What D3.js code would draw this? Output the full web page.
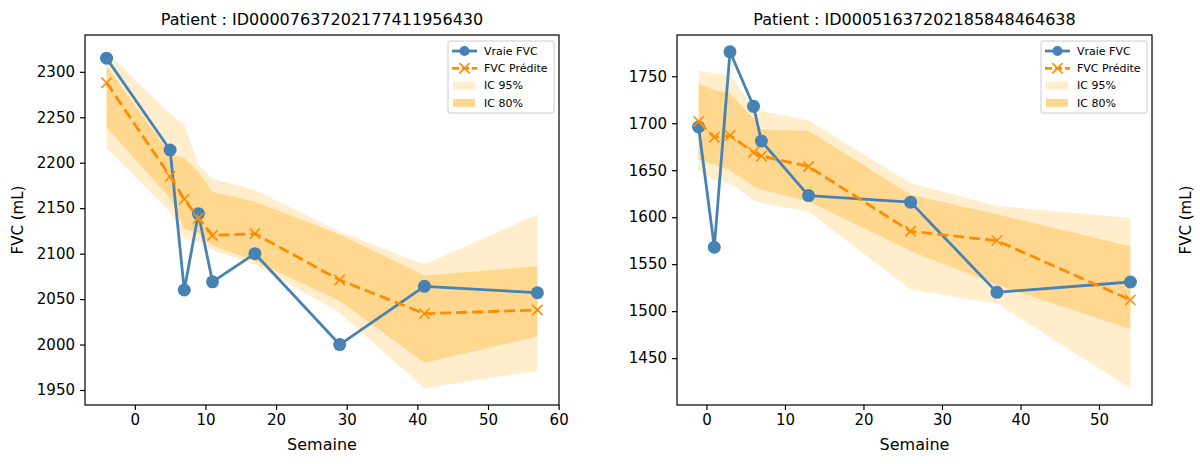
<!DOCTYPE html>
<html lang="fr">
<head>
<meta charset="utf-8">
<title>FVC</title>
<script src="https://d3js.org/d3.v7.min.js"></script>
<style>
  body { margin: 0; background: #fff; }
  svg { font-family: "DejaVu Sans", sans-serif; }
  .tick text { font-size: 15px; fill: #000; font-family: "DejaVu Sans", sans-serif; }
  .tick line { stroke: #000; stroke-width: 1.2; }
  .domain { display: none; }
</style>
</head>
<body>
<div id="chart"></div>
<script>
// patient 1
var patient1 = "ID00007637202177411956430";
var weeks1 = [-4, 5, 7, 9, 11, 17, 29, 41, 57];
var trueFvc1 = [2315, 2214, 2060, 2144, 2069, 2100, 2000, 2064, 2057];
var predFvc1 = [2288, 2185, 2160, 2139, 2120, 2122, 2071, 2034, 2038];
var lo95_1 = [2216, 2146, 2116, 2113, 2104, 2088, 2035, 1952, 1971];
var hi95_1 = [2322, 2254, 2242, 2198, 2182, 2170, 2124, 2088, 2143];
var lo80_1 = [2239, 2161, 2127, 2123, 2109, 2092, 2048, 1980, 2009];
var hi80_1 = [2306, 2210, 2205, 2190, 2168, 2157, 2121, 2076, 2086];
var xTicks1 = [0, 10, 20, 30, 40, 50, 60];
var yTicks1 = [1950, 2000, 2050, 2100, 2150, 2200, 2250, 2300];

// patient 2
var patient2 = "ID00051637202185848464638";
var weeks2 = [-1, 1, 3, 6, 7, 13, 26, 37, 54];
var trueFvc2 = [1696, 1568, 1776, 1718, 1681, 1623, 1616, 1520, 1531];
var predFvc2 = [1702, 1685, 1687, 1669, 1665, 1654, 1585, 1575, 1512];
var lo95_2 = [1649, 1640, 1636, 1618, 1615, 1606, 1523, 1508, 1418];
var hi95_2 = [1756, 1753, 1751, 1717, 1713, 1703, 1636, 1612, 1599];
var lo80_2 = [1661, 1656, 1650, 1633, 1629, 1617, 1564, 1528, 1481];
var hi80_2 = [1742, 1735, 1732, 1705, 1693, 1692, 1624, 1603, 1569];
var xTicks2 = [0, 10, 20, 30, 40, 50];
var yTicks2 = [1450, 1500, 1550, 1600, 1650, 1700, 1750];

var legendLabels = ["Vraie FVC", "FVC Prédite", "IC 95%", "IC 80%"];

var W = 1200, H = 464;
var svg = d3.select("#chart").append("svg")
    .attr("width", W)
    .attr("height", H);

// marges 5% comme matplotlib
function padded(lo, hi) {
    var p = (hi - lo) * 0.05;
    return [lo - p, hi + p];
}

function panel(left, right, top, bottom, p) {
    var x = d3.scaleLinear()
        .domain(padded(d3.min(p.weeks), d3.max(p.weeks)))
        .range([left, right]);
    var y = d3.scaleLinear()
        .domain(padded(d3.min(p.lo95.concat(p.trueFvc)), d3.max(p.hi95.concat(p.trueFvc))))
        .range([bottom, top]);

    var g = svg.append("g");

    var rows = p.weeks.map(function(w, i) {
        return {w: w, t: p.trueFvc[i], pr: p.predFvc[i],
                lo95: p.lo95[i], hi95: p.hi95[i], lo80: p.lo80[i], hi80: p.hi80[i]};
    });

    g.append("path")
        .datum(rows)
        .attr("fill", "orange")
        .attr("fill-opacity", 0.2)
        .attr("d", d3.area().x(function(d) { return x(d.w); })
            .y0(function(d) { return y(d.lo95); })
            .y1(function(d) { return y(d.hi95); }));
    g.append("path")
        .datum(rows)
        .attr("fill", "orange")
        .attr("fill-opacity", 0.3)
        .attr("d", d3.area().x(function(d) { return x(d.w); })
            .y0(function(d) { return y(d.lo80); })
            .y1(function(d) { return y(d.hi80); }));

    // vraie FVC
    g.append("path")
        .datum(rows)
        .attr("fill", "none")
        .attr("stroke", "steelblue")
        .attr("stroke-width", 2.8)
        .attr("stroke-linejoin", "round")
        .attr("d", d3.line().x(function(d) { return x(d.w); }).y(function(d) { return y(d.t); }));
    g.selectAll(".dot")
        .data(rows)
        .enter().append("circle")
        .attr("cx", function(d) { return x(d.w); })
        .attr("cy", function(d) { return y(d.t); })
        .attr("r", 6.5)
        .attr("fill", "steelblue");

    // FVC predite
    g.append("path")
        .datum(rows)
        .attr("fill", "none")
        .attr("stroke", "darkorange")
        .attr("stroke-width", 2.8)
        .attr("stroke-dasharray", "11,5")
        .attr("d", d3.line().x(function(d) { return x(d.w); }).y(function(d) { return y(d.pr); }));
    var cross = d3.symbol().type(d3.symbolX).size(70);
    g.selectAll(".cross")
        .data(rows)
        .enter().append("path")
        .attr("transform", function(d) { return "translate(" + x(d.w) + "," + y(d.pr) + ")"; })
        .attr("d", cross)
        .attr("fill", "none")
        .attr("stroke", "darkorange")
        .attr("stroke-width", 1.6);

    // axes
    g.append("g")
        .attr("transform", "translate(0," + bottom + ")")
        .call(d3.axisBottom(x).tickValues(p.xTicks).tickFormat(d3.format("d")).tickSize(5).tickPadding(4));
    g.append("g")
        .attr("transform", "translate(" + left + ",0)")
        .call(d3.axisLeft(y).tickValues(p.yTicks).tickFormat(d3.format("d")).tickSize(5).tickPadding(5));

    g.append("rect")
        .attr("x", left).attr("y", top)
        .attr("width", right - left).attr("height", bottom - top)
        .attr("fill", "none")
        .attr("stroke", "#000")
        .attr("stroke-width", 1.2);

    g.append("text")
        .attr("x", (left + right) / 2)
        .attr("y", top - 10)
        .attr("text-anchor", "middle")
        .style("font-size", "16px")
        .text("Patient : " + p.name);

    g.append("text")
        .attr("x", (left + right) / 2)
        .attr("y", bottom + 45)
        .attr("text-anchor", "middle")
        .style("font-size", "16px")
        .text("Semaine");

    // legende
    var lx = right - 111, ly = top + 6;
    var leg = g.append("g").attr("transform", "translate(" + lx + "," + ly + ")");
    leg.append("rect")
        .attr("width", 106).attr("height", 72)
        .attr("rx", 2)
        .attr("fill", "#fff").attr("fill-opacity", 0.8)
        .attr("stroke", "#ccc");
    legendLabels.forEach(function(lab, i) {
        var cy = 10 + i * 17.3;
        if (i === 0) {
            leg.append("line").attr("x1", 4).attr("x2", 29).attr("y1", cy).attr("y2", cy)
                .attr("stroke", "steelblue").attr("stroke-width", 2.8);
            leg.append("circle").attr("cx", 16.5).attr("cy", cy).attr("r", 5).attr("fill", "steelblue");
        } else if (i === 1) {
            leg.append("line").attr("x1", 4).attr("x2", 29).attr("y1", cy).attr("y2", cy)
                .attr("stroke", "darkorange").attr("stroke-width", 2.8)
                .attr("stroke-dasharray", "7,3");
            leg.append("path").attr("transform", "translate(16.5," + cy + ")")
                .attr("d", cross).attr("fill", "none")
                .attr("stroke", "darkorange").attr("stroke-width", 1.6);
        } else {
            leg.append("rect").attr("x", 5).attr("y", cy - 4).attr("width", 22).attr("height", 8)
                .attr("fill", "orange").attr("fill-opacity", i === 2 ? 0.2 : 0.44);
        }
        leg.append("text")
            .attr("x", 36).attr("y", cy)
            .attr("dy", "0.35em")
            .style("font-size", "11px")
            .text(lab);
    });

    return g;
}

panel(85, 559, 35, 405, {name: patient1, weeks: weeks1, trueFvc: trueFvc1, predFvc: predFvc1,
    lo95: lo95_1, hi95: hi95_1, lo80: lo80_1, hi80: hi80_1, xTicks: xTicks1, yTicks: yTicks1});
panel(677, 1152, 35, 405, {name: patient2, weeks: weeks2, trueFvc: trueFvc2, predFvc: predFvc2,
    lo95: lo95_2, hi95: hi95_2, lo80: lo80_2, hi80: hi80_2, xTicks: xTicks2, yTicks: yTicks2});

// etiquettes y (la troisieme appartient a un panneau coupe)
[18, 1186].forEach(function(cx) {
    svg.append("text")
        .attr("transform", "translate(" + cx + ",220) rotate(-90)")
        .attr("text-anchor", "middle")
        .attr("dy", "0.35em")
        .style("font-size", "15px")
        .text("FVC (mL)");
});
</script>
</body>
</html>
